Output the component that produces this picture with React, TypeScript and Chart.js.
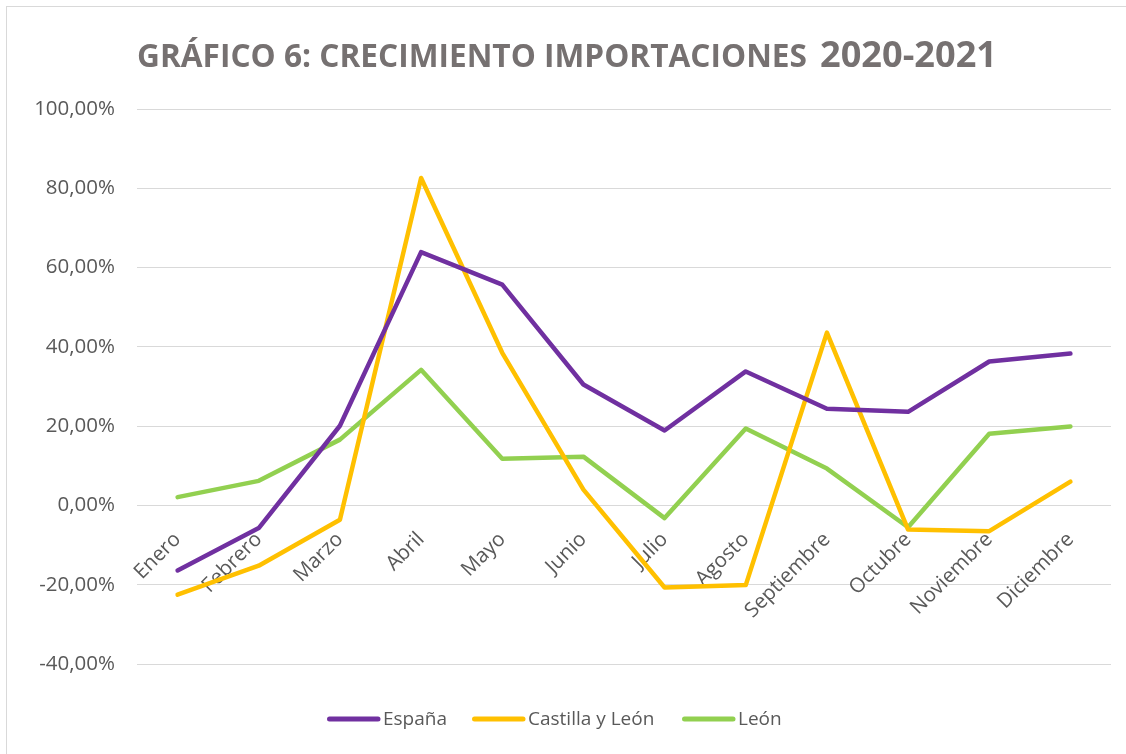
import React, { useEffect, useRef } from "react";
import { Chart, registerables } from "chart.js";

Chart.register(...registerables);

const categories = ["Enero", "Febrero", "Marzo", "Abril", "Mayo", "Junio", "Julio", "Agosto", "Septiembre", "Octubre", "Noviembre", "Diciembre"];
const espana = [-16.4, -5.7, 20.1, 63.9, 55.7, 30.5, 18.9, 33.8, 24.4, 23.6, 36.3, 38.3];
const castillaYLeon = [-22.5, -15.2, -3.6, 82.6, 38.5, 4.0, -20.7, -20.1, 43.6, -6.1, -6.5, 6.0];
const leon = [2.1, 6.2, 16.6, 34.2, 11.8, 12.3, -3.2, 19.4, 9.3, -5.5, 18.1, 19.9];
const yMin = -40;
const yMax = 100;
const yStep = 20;
const titleMain = "GRÁFICO 6: CRECIMIENTO IMPORTACIONES";
const titleYears = "2020-2021";
const seriesNames = ["España", "Castilla y León", "León"];
const seriesColors = ["#7030A0", "#FFC000", "#92D050"];

const FONT = "'Open Sans', 'DejaVu Sans', sans-serif";
const LEGEND_SIZE = 19;
const AXIS_SIZE = 20.5;
const LABEL_COLOR = "#595959";

const fmtPct = (v: number) => v.toFixed(2).replace(".", ",") + "%";

const titlePlugin = {
  id: "customTitle",
  afterDraw(chart: any) {
    const ctx = chart.ctx as CanvasRenderingContext2D;
    ctx.save();
    ctx.fillStyle = "#767171";
    ctx.textBaseline = "alphabetic";
    ctx.textAlign = "left";
    ctx.font = `bold 33px ${FONT}`;
    const w1 = ctx.measureText(titleMain).width;
    ctx.save();
    ctx.translate(137, 67);
    ctx.scale(670 / w1, 1);
    ctx.fillText(titleMain, 0, 0);
    ctx.restore();
    ctx.font = `bold 36px ${FONT}`;
    const w2 = ctx.measureText(titleYears).width;
    ctx.save();
    ctx.translate(820, 67);
    ctx.scale(177 / w2, 1);
    ctx.fillText(titleYears, 0, 0);
    ctx.restore();
    ctx.restore();
  },
};

const legendPlugin = {
  id: "customLegend",
  afterDraw(chart: any) {
    const ctx = chart.ctx as CanvasRenderingContext2D;
    const starts = [327, 472, 682];
    const y = 719;
    ctx.save();
    ctx.font = `${LEGEND_SIZE}px ${FONT}`;
    ctx.textBaseline = "middle";
    ctx.textAlign = "left";
    chart.data.datasets.forEach((ds: any, i: number) => {
      const x0 = starts[i];
      ctx.strokeStyle = ds.borderColor;
      ctx.lineWidth = 5;
      ctx.lineCap = "round";
      ctx.beginPath();
      ctx.moveTo(x0 + 2.5, y);
      ctx.lineTo(x0 + 51, y);
      ctx.stroke();
      ctx.fillStyle = LABEL_COLOR;
      ctx.fillText(ds.label, x0 + 56, y + 1);
    });
    ctx.restore();
  },
};

export default function App() {
  const canvasRef = useRef<HTMLCanvasElement | null>(null);

  useEffect(() => {
    if (!canvasRef.current) return;
    const seriesData = [espana, castillaYLeon, leon];
    const chart = new Chart(canvasRef.current, {
      type: "line",
      data: {
        labels: categories,
        datasets: seriesData.map((d, i) => ({
          label: seriesNames[i],
          data: d,
          borderColor: seriesColors[i],
          backgroundColor: seriesColors[i],
          borderWidth: 4.5,
          pointRadius: 0,
          pointHoverRadius: 0,
          tension: 0,
          borderJoinStyle: "round" as const,
          borderCapStyle: "round" as const,
          fill: false,
        })),
      },
      options: {
        responsive: false,
        animation: false,
        layout: { padding: { top: 109, right: 15, bottom: 90, left: 0 } },
        plugins: {
          legend: { display: false },
          title: { display: false },
          tooltip: { enabled: false },
        },
        scales: {
          x: {
            type: "category",
            offset: true,
            position: { y: 0 } as any,
            grid: { display: false, drawTicks: false },
            border: { display: false },
            ticks: {
              autoSkip: false,
              minRotation: 45,
              maxRotation: 45,
              padding: 22,
              color: LABEL_COLOR,
              font: { family: FONT, size: AXIS_SIZE },
            },
          },
          y: {
            min: yMin,
            max: yMax,
            grid: { color: "#d9d9d9", lineWidth: 1, drawTicks: false },
            border: { display: false },
            afterFit(scale: any) {
              scale.width = 137;
            },
            ticks: {
              stepSize: yStep,
              padding: 22,
              color: LABEL_COLOR,
              font: { family: FONT, size: AXIS_SIZE },
              callback: (v: any) => fmtPct(Number(v)),
            },
          },
        },
      },
      plugins: [titlePlugin, legendPlugin],
    });
    return () => chart.destroy();
  }, []);

  return (
    <div style={{ position: "absolute", left: 0, top: 0, width: 1126, height: 754, overflow: "hidden", background: "#fff" }}>
      <div
        style={{
          position: "absolute",
          left: 6,
          top: 6,
          width: 1140,
          height: 770,
          border: "1px solid #d9d9d9",
          boxSizing: "border-box",
        }}
      />
      <canvas ref={canvasRef} width={1126} height={754} style={{ position: "absolute", left: 0, top: 0 }} />
    </div>
  );
}
